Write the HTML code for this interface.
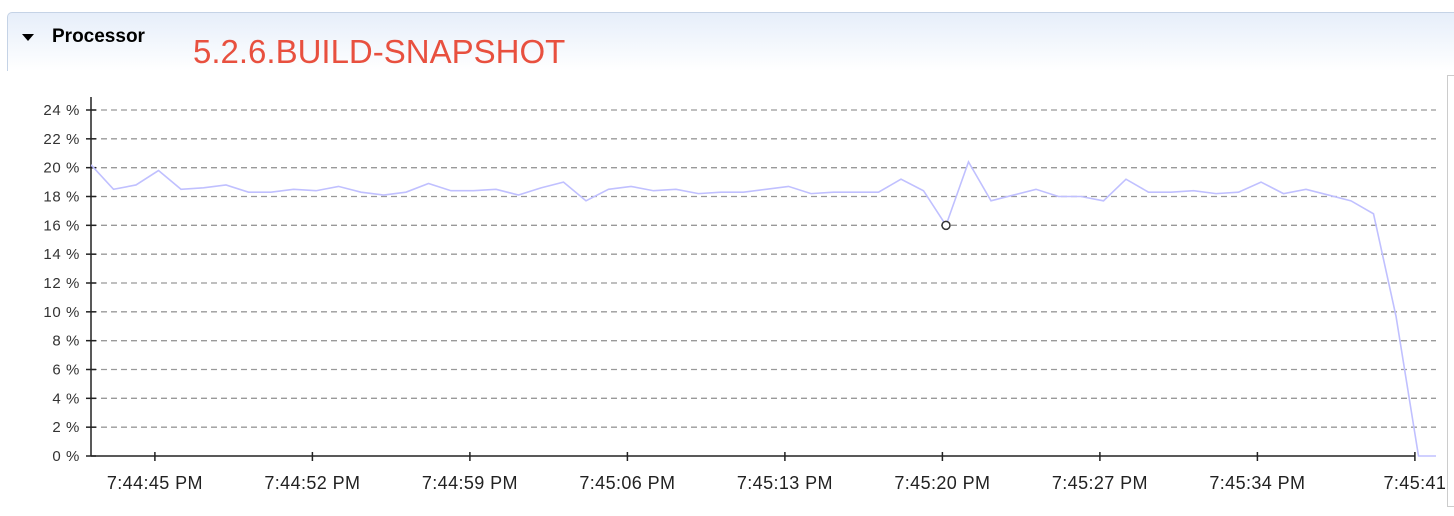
<!DOCTYPE html>
<html><head><meta charset="utf-8"><style>
body{margin:0;width:1454px;height:516px;background:#fff;overflow:hidden;font-family:"Liberation Sans",sans-serif;position:relative}
#hdr{position:absolute;left:7px;top:12px;width:1460px;height:58px;border:1px solid #c5d3e6;border-right:none;border-bottom:none;border-radius:5px 0 0 0;background:linear-gradient(#e6eefa,#fff)}
#tri{position:absolute;left:22px;top:34px;width:0;height:0;border-left:6px solid transparent;border-right:6px solid transparent;border-top:7px solid #000}
#title{position:absolute;left:52px;top:26px;font-weight:bold;font-size:19px;color:#000}
#ver{position:absolute;left:193px;top:33px;font-size:33px;color:#e8503f}
#side{position:absolute;left:1447px;top:75px;width:20px;height:430px;border:1px solid #ccc}
</style></head><body>
<div id="hdr"></div>
<div id="tri"></div>
<div id="title">Processor</div>
<div id="ver">5.2.6.BUILD-SNAPSHOT</div>
<div id="side"></div>
<svg id="chart" width="1454" height="516" style="position:absolute;left:0;top:0"></svg>
<script>
const values=[20.2,18.5,18.8,19.8,18.5,18.6,18.8,18.3,18.3,18.5,18.4,18.7,18.3,18.1,18.3,18.9,18.4,18.4,18.5,18.1,18.6,19.0,17.7,18.5,18.7,18.4,18.5,18.2,18.3,18.3,
18.5,18.7,18.2,18.3,18.3,18.3,19.2,18.4,16.0,20.4,17.7,18.1,18.5,18.0,18.0,17.7,19.2,18.3,18.3,18.4,18.2,18.3,19.0,18.2,18.5,18.1,17.7,16.8,9.7,0,0];
const startSec=42.16;
const yTicks=[0,2,4,6,8,10,12,14,16,18,20,22,24];
const xTickSecs=[45,52,59,66,73,80,87,94,101];
const xTickLabels=["7:44:45 PM","7:44:52 PM","7:44:59 PM","7:45:06 PM","7:45:13 PM","7:45:20 PM","7:45:27 PM","7:45:34 PM","7:45:41"];
const markerIndex=38;
const L=91,R=1436,T=110,B=456;
const x=s=>L+(s-startSec)*22.5;
const y=v=>B-(v/24)*(B-T);
const svg=document.getElementById('chart');
const NS='http://www.w3.org/2000/svg';
function mk(t,a){const e=document.createElementNS(NS,t);for(const k in a)e.setAttribute(k,a[k]);svg.appendChild(e);return e;}
const cp=mk('clipPath',{id:'cp'});svg.removeChild(cp);
const cr=document.createElementNS(NS,'rect');cr.setAttribute('x',L);cr.setAttribute('y',90);cr.setAttribute('width',R-L);cr.setAttribute('height',380);cp.appendChild(cr);svg.appendChild(cp);
yTicks.forEach(v=>{
 if(v>0){const g=mk('line',{x1:L,x2:R,y1:y(v),y2:y(v),stroke:'#999','stroke-width':1.3,'stroke-dasharray':'6,4'});
 
 }
 const tk=mk('line',{x1:L-5,x2:L+5,y1:y(v),y2:y(v),stroke:'#222','stroke-width':1.5});
 
 
 const t=mk('text',{x:L-11,y:y(v)+5,'text-anchor':'end','font-size':15,'letter-spacing':'0.6',fill:'#333','font-family':'Liberation Sans, sans-serif'});
 t.textContent=v+' %';
 
 
});
const ax=mk('line',{x1:L,x2:L,y1:97,y2:B,stroke:'#222','stroke-width':1.5});


const xa=mk('line',{x1:L,x2:x(xTickSecs[xTickSecs.length-1]),y1:B,y2:B,stroke:'#222','stroke-width':1.5});


xTickSecs.forEach((s,i)=>{
 const tk=mk('line',{x1:x(s),x2:x(s),y1:B-4,y2:B+5,stroke:'#222','stroke-width':1.5});
 
 
 const t=mk('text',{x:x(s),y:489,'text-anchor':'middle','font-size':18,'letter-spacing':'0.4',fill:'#222','font-family':'Liberation Sans, sans-serif'});
 t.textContent=xTickLabels[i];
 
 
});
const pts=values.map((v,i)=>x(startSec+i)+','+y(v)).join(' ');
const pl=mk('polyline',{points:pts,fill:'none',stroke:'#c0c0ff','stroke-width':1.6,'clip-path':'url(#cp)'});


const c=mk('circle',{cx:x(startSec+markerIndex),cy:y(values[markerIndex]),r:4,fill:'#fff',stroke:'#333','stroke-width':1.5});


</script>
</body></html>
